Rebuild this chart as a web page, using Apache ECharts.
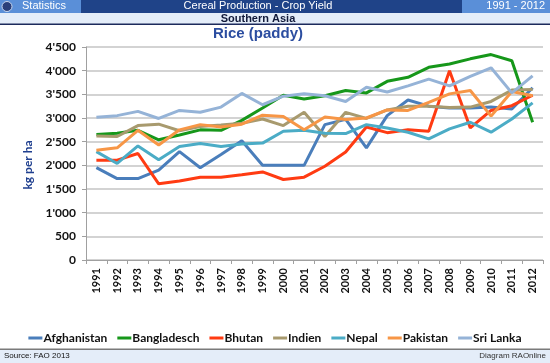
<!DOCTYPE html>
<html><head><meta charset="utf-8">
<script src="https://cdn.jsdelivr.net/npm/echarts@6/dist/echarts.min.js"></script>
<style>html,body{margin:0;padding:0;background:#fff}#c{width:550px;height:363px}</style>
</head><body><div id="c"></div>
<script>
var years = ['1991','1992','1993','1994','1995','1996','1997','1998','1999','2000','2001','2002','2003','2004','2005','2006','2007','2008','2009','2010','2011','2012'];
var afghanistan = [1950,1720,1720,1900,2290,1950,2230,2520,2000,2000,2000,2860,2970,2370,3050,3380,3250,3210,3210,3230,3190,3640];
var bangladesch = [2650,2680,2740,2540,2640,2750,2740,2950,3210,3480,3400,3470,3580,3530,3775,3860,4070,4140,4250,4340,4210,2910];
var bhutan = [2110,2110,2250,1610,1670,1750,1750,1800,1860,1700,1750,1980,2280,2810,2690,2750,2720,4000,2790,3160,3260,3480];
var indien = [2620,2610,2840,2870,2730,2820,2850,2890,2980,2840,3120,2610,3120,2990,3170,3250,3250,3220,3230,3350,3590,3600];
var nepal = [2290,2040,2410,2120,2400,2460,2400,2450,2470,2720,2740,2680,2670,2860,2790,2700,2560,2770,2910,2700,2980,3320];
var pakistan = [2320,2370,2740,2430,2750,2860,2810,2870,3060,3030,2750,3020,2970,3000,3170,3160,3330,3510,3580,3040,3560,3470];
var sriLanka = [3015,3050,3140,2990,3160,3120,3230,3520,3280,3460,3510,3470,3350,3650,3550,3680,3820,3680,3880,4060,3530,3890];
var yTicks = [0,500,1000,1500,2000,2500,3000,3500,4000,4500];

var names = ['Afghanistan','Bangladesch','Bhutan','Indien','Nepal','Pakistan','Sri Lanka'];
var datas = [afghanistan,bangladesch,bhutan,indien,nepal,pakistan,sriLanka];
var colors = ['#4a7ebb','#16971a','#ff3b12','#a89a6e','#4bacc6','#f79646','#95b3d7'];

function fmt(v){ var s=String(v); if(s.length>3){ s=s.slice(0,s.length-3)+"'"+s.slice(s.length-3);} return s; }

var chart = echarts.init(document.getElementById('c'), null, {renderer:'canvas'});
var series = names.map(function(n,i){
  return {name:n,type:'line',data:datas[i],symbol:'none',smooth:false,
    lineStyle:{width:3,color:colors[i]},itemStyle:{color:colors[i]},z:2+i};
});
chart.setOption({
  animation:false,
  grid:{left:86,right:7,top:47,bottom:103},
  xAxis:{type:'category',data:years,boundaryGap:true,
    axisLine:{lineStyle:{color:'#a0a0a0',width:1}},
    axisTick:{show:true,length:4,lineStyle:{color:'#a0a0a0'}},
    axisLabel:{rotate:90,fontFamily:'Lato',fontWeight:'bold',fontSize:11,color:'#111',margin:8,interval:0}},
  yAxis:{type:'value',min:0,max:4500,interval:500,
    axisLine:{show:true,lineStyle:{color:'#a0a0a0'}},
    axisTick:{show:true,length:4,lineStyle:{color:'#a0a0a0'}},
    splitLine:{lineStyle:{color:'#c4c4c4',width:1.5}},
    axisLabel:{fontFamily:'Lato',fontWeight:'bold',fontSize:12,color:'#111',margin:10,
      formatter:function(v){return yTicks.indexOf(v)>=0?fmt(v):'';}}},
  legend:{data:names,bottom:14,left:'center',itemWidth:14,itemHeight:3,itemGap:10,icon:'rect',
    textStyle:{fontFamily:'Lato',fontWeight:'bold',fontSize:12,color:'#111',padding:[0,0,0,-4]}},
  series:series,
  graphic:[
    {type:'rect',shape:{x:0,y:0,width:550,height:13},style:{fill:'#1f4388'},silent:true},
    {type:'rect',shape:{x:0,y:0,width:81,height:13},style:{fill:'#5a8fd8'},silent:true},
    {type:'rect',shape:{x:462,y:0,width:88,height:13},style:{fill:'#5a8fd8'},silent:true},
    {type:'circle',shape:{cx:7,cy:6.5,r:5},style:{fill:'#2a3f7a',stroke:'#c8d6ee',lineWidth:1},silent:true},
    {type:'text',left:22,top:0,style:{text:'Statistics',font:'11px "Liberation Sans", Arial',fill:'#fff'}},
    {type:'text',x:258,y:0,style:{text:'Cereal Production - Crop Yield',font:'11px "Liberation Sans", Arial',fill:'#fff',textAlign:'center'}},
    {type:'text',x:545,y:0,style:{text:'1991 - 2012',font:'11px "Liberation Sans", Arial',fill:'#fff',textAlign:'right'}},
    {type:'rect',shape:{x:0,y:13,width:550,height:11},style:{fill:'#e4edf9'},silent:true},
    {type:'text',x:258,y:13,style:{text:'Southern Asia',font:'bold 11px "Liberation Sans", Arial',fill:'#111a3a',textAlign:'center'}},
    {type:'rect',shape:{x:0,y:23.5,width:550,height:1.5},style:{fill:'#1c2a5c'},silent:true},
    {type:'text',x:258,y:26,style:{text:'Rice (paddy)',font:'bold 15px "Liberation Sans", Arial',fill:'#2b4da0',textAlign:'center'}},
    {type:'text',x:28,y:165,rotation:Math.PI/2,style:{text:'kg per ha',font:'bold 12px Lato',fill:'#1f3f8f',textAlign:'center',textVerticalAlign:'middle'}},
    {type:'rect',shape:{x:0,y:348.5,width:550,height:1.5},style:{fill:'#7a7a7a'},silent:true},
    {type:'rect',shape:{x:0,y:350,width:550,height:13},style:{fill:'#e4edf9'},silent:true},
    {type:'text',x:4,y:352,style:{text:'Source: FAO 2013',font:'8px "Liberation Sans", Arial',fill:'#111'}},
    {type:'text',x:546,y:352,style:{text:'Diagram RAOnline',font:'8px "Liberation Sans", Arial',fill:'#333',textAlign:'right'}}
  ]
});
</script></body></html>
